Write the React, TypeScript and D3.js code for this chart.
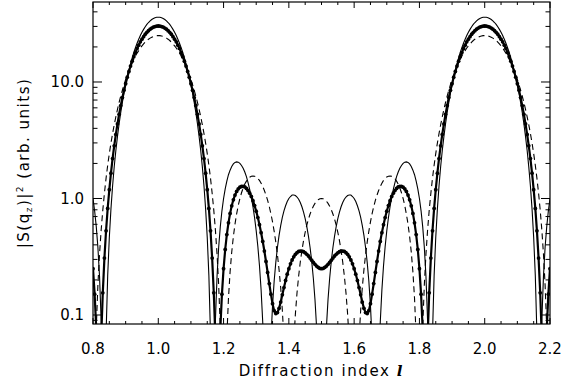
import React from "react";
import * as d3 from "d3";

// Sampling grid of the diffraction index l
const L_START = 0.8;
const L_STEP = 0.005;

// |S(q_z)|^2 for a 6-layer film (thin solid line)
const sixLayers = [
  1.00, 0.784, 0.574, 0.381, 0.215, 0.0896, 0.0152, 0.00402, 0.0677, 0.217,
  0.463, 0.815, 1.28, 1.87, 2.58, 3.41, 4.38, 5.47, 6.69, 8.03,
  9.47, 11.0, 12.6, 14.3, 16.1, 17.9, 19.7, 21.5, 23.3, 25.1,
  26.7, 28.3, 29.8, 31.2, 32.4, 33.5, 34.4, 35.1, 35.6, 35.9,
  36.0,
  35.9, 35.6, 35.1, 34.4, 33.5, 32.4, 31.2, 29.8, 28.3, 26.7,
  25.1, 23.3, 21.5, 19.7, 17.9, 16.1, 14.3, 12.6, 11.0, 9.47,
  8.03, 6.69, 5.47, 4.38, 3.41, 2.58, 1.87, 1.28, 0.815, 0.463,
  0.217, 0.0677, 0.00402, 0.0152, 0.0896, 0.215, 0.381, 0.574, 0.784, 1.00,
  1.21, 1.41, 1.60, 1.75, 1.88, 1.98, 2.04, 2.06, 2.05, 2.00,
  1.92, 1.82, 1.69, 1.54, 1.37, 1.20, 1.03, 0.851, 0.684, 0.528,
  0.387, 0.265, 0.164, 0.0868, 0.0337, 0.00532, 0.00131, 0.0205, 0.0609, 0.120,
  0.196, 0.283, 0.380, 0.482, 0.586, 0.687, 0.782, 0.867, 0.941, 1.00,
  1.04, 1.07, 1.07, 1.06, 1.03, 0.985, 0.923, 0.849, 0.763, 0.671,
  0.574, 0.476, 0.380, 0.290, 0.207, 0.136, 0.0780, 0.0351, 0.00886, 0,
  0.00886, 0.0351, 0.0780, 0.136, 0.207, 0.290, 0.380, 0.476, 0.574, 0.671,
  0.763, 0.849, 0.923, 0.985, 1.03, 1.06, 1.07, 1.07, 1.04, 1.00,
  0.941, 0.867, 0.782, 0.687, 0.586, 0.482, 0.380, 0.283, 0.196, 0.120,
  0.0609, 0.0205, 0.00131, 0.00532, 0.0337, 0.0868, 0.164, 0.265, 0.387, 0.528,
  0.684, 0.851, 1.03, 1.20, 1.37, 1.54, 1.69, 1.82, 1.92, 2.00,
  2.05, 2.06, 2.04, 1.98, 1.88, 1.75, 1.60, 1.41, 1.21, 1.00,
  0.784, 0.574, 0.381, 0.215, 0.0896, 0.0152, 0.00402, 0.0677, 0.217, 0.463,
  0.815, 1.28, 1.87, 2.58, 3.41, 4.38, 5.47, 6.69, 8.03, 9.47,
  11.0, 12.6, 14.3, 16.1, 17.9, 19.7, 21.5, 23.3, 25.1, 26.7,
  28.3, 29.8, 31.2, 32.4, 33.5, 34.4, 35.1, 35.6, 35.9, 36.0,
  35.9, 35.6, 35.1, 34.4, 33.5, 32.4, 31.2, 29.8, 28.3, 26.7,
  25.1, 23.3, 21.5, 19.7, 17.9, 16.1, 14.3, 12.6, 11.0, 9.47,
  8.03, 6.69, 5.47, 4.38, 3.41, 2.58, 1.87, 1.28, 0.815, 0.463,
  0.217, 0.0677, 0.00402, 0.0152, 0.0896, 0.215, 0.381, 0.574, 0.784, 1.00,
];

// 5-layer film (dashed line)
const fiveLayers = [
  0, 0.0186, 0.0775, 0.181, 0.333, 0.536, 0.795, 1.11, 1.49, 1.93,
  2.43, 2.99, 3.61, 4.29, 5.03, 5.83, 6.67, 7.57, 8.50, 9.47,
  10.5, 11.5, 12.5, 13.6, 14.6, 15.7, 16.7, 17.7, 18.6, 19.6,
  20.4, 21.2, 22.0, 22.7, 23.3, 23.8, 24.2, 24.6, 24.8, 25.0,
  25.0,
  25.0, 24.8, 24.6, 24.2, 23.8, 23.3, 22.7, 22.0, 21.2, 20.4,
  19.6, 18.6, 17.7, 16.7, 15.7, 14.6, 13.6, 12.5, 11.5, 10.5,
  9.47, 8.50, 7.57, 6.67, 5.83, 5.03, 4.29, 3.61, 2.99, 2.43,
  1.93, 1.49, 1.11, 0.795, 0.536, 0.333, 0.181, 0.0775, 0.0186, 0,
  0.0171, 0.0651, 0.139, 0.235, 0.347, 0.471, 0.603, 0.737, 0.871, 1.00,
  1.12, 1.23, 1.33, 1.41, 1.48, 1.52, 1.55, 1.56, 1.55, 1.53,
  1.48, 1.43, 1.35, 1.27, 1.17, 1.07, 0.964, 0.852, 0.740, 0.630,
  0.523, 0.422, 0.329, 0.245, 0.172, 0.110, 0.0623, 0.0276, 0.00688, 0,
  0.00674, 0.0265, 0.0586, 0.102, 0.155, 0.216, 0.285, 0.358, 0.435, 0.513,
  0.590, 0.665, 0.736, 0.801, 0.859, 0.908, 0.948, 0.976, 0.994, 1.00,
  0.994, 0.976, 0.948, 0.908, 0.859, 0.801, 0.736, 0.665, 0.590, 0.513,
  0.435, 0.358, 0.285, 0.216, 0.155, 0.102, 0.0586, 0.0265, 0.00674, 0,
  0.00688, 0.0276, 0.0623, 0.110, 0.172, 0.245, 0.329, 0.422, 0.523, 0.630,
  0.740, 0.852, 0.964, 1.07, 1.17, 1.27, 1.35, 1.43, 1.48, 1.53,
  1.55, 1.56, 1.55, 1.52, 1.48, 1.41, 1.33, 1.23, 1.12, 1.00,
  0.871, 0.737, 0.603, 0.471, 0.347, 0.235, 0.139, 0.0651, 0.0171, 0,
  0.0186, 0.0775, 0.181, 0.333, 0.536, 0.795, 1.11, 1.49, 1.93, 2.43,
  2.99, 3.61, 4.29, 5.03, 5.83, 6.67, 7.57, 8.50, 9.47, 10.5,
  11.5, 12.5, 13.6, 14.6, 15.7, 16.7, 17.7, 18.6, 19.6, 20.4,
  21.2, 22.0, 22.7, 23.3, 23.8, 24.2, 24.6, 24.8, 25.0, 25.0,
  25.0, 24.8, 24.6, 24.2, 23.8, 23.3, 22.7, 22.0, 21.2, 20.4,
  19.6, 18.6, 17.7, 16.7, 15.7, 14.6, 13.6, 12.5, 11.5, 10.5,
  9.47, 8.50, 7.57, 6.67, 5.83, 5.03, 4.29, 3.61, 2.99, 2.43,
  1.93, 1.49, 1.11, 0.795, 0.536, 0.333, 0.181, 0.0775, 0.0186, 0,
];

// 5 full layers + a half-filled 6th layer (thick line with dots)
const fiveHalfLayers = [
  0.250, 0.151, 0.0756, 0.0307, 0.0240, 0.0630, 0.155, 0.308, 0.528, 0.822,
  1.19, 1.65, 2.20, 2.83, 3.55, 4.37, 5.28, 6.27, 7.35, 8.50,
  9.68, 11.0, 12.3, 13.7, 15.1, 16.5, 17.9, 19.4, 20.7, 22.1,
  23.3, 24.5, 25.7, 26.7, 27.6, 28.4, 29.0, 29.6, 29.9, 30.2,
  30.25,
  30.2, 29.9, 29.6, 29.0, 28.4, 27.6, 26.7, 25.7, 24.5, 23.3,
  22.1, 20.7, 19.4, 17.9, 16.5, 15.1, 13.7, 12.3, 11.0, 9.68,
  8.50, 7.35, 6.27, 5.28, 4.37, 3.55, 2.83, 2.20, 1.65, 1.19,
  0.822, 0.528, 0.308, 0.155, 0.0630, 0.0240, 0.0307, 0.0756, 0.151, 0.250,
  0.365, 0.490, 0.618, 0.745, 0.865, 0.974, 1.07, 1.15, 1.21, 1.25,
  1.27, 1.27, 1.26, 1.22, 1.17, 1.11, 1.04, 0.957, 0.869, 0.778,
  0.686, 0.596, 0.509, 0.428, 0.354, 0.288, 0.232, 0.186, 0.151, 0.125,
  0.109, 0.103, 0.105, 0.114, 0.129, 0.149, 0.172, 0.198, 0.224, 0.250,
  0.275, 0.297, 0.316, 0.332, 0.343, 0.351, 0.354, 0.353, 0.349, 0.342,
  0.332, 0.321, 0.308, 0.295, 0.283, 0.272, 0.263, 0.256, 0.251, 0.250,
  0.251, 0.256, 0.263, 0.272, 0.283, 0.295, 0.308, 0.321, 0.332, 0.342,
  0.349, 0.353, 0.354, 0.351, 0.343, 0.332, 0.316, 0.297, 0.275, 0.250,
  0.224, 0.198, 0.172, 0.149, 0.129, 0.114, 0.105, 0.103, 0.109, 0.125,
  0.151, 0.186, 0.232, 0.288, 0.354, 0.428, 0.509, 0.596, 0.686, 0.778,
  0.869, 0.957, 1.04, 1.11, 1.17, 1.22, 1.26, 1.27, 1.27, 1.25,
  1.21, 1.15, 1.07, 0.974, 0.865, 0.745, 0.618, 0.490, 0.365, 0.250,
  0.151, 0.0756, 0.0307, 0.0240, 0.0630, 0.155, 0.308, 0.528, 0.822, 1.19,
  1.65, 2.20, 2.83, 3.55, 4.37, 5.28, 6.27, 7.35, 8.50, 9.68,
  11.0, 12.3, 13.7, 15.1, 16.5, 17.9, 19.4, 20.7, 22.1, 23.3,
  24.5, 25.7, 26.7, 27.6, 28.4, 29.0, 29.6, 29.9, 30.2, 30.25,
  30.2, 29.9, 29.6, 29.0, 28.4, 27.6, 26.7, 25.7, 24.5, 23.3,
  22.1, 20.7, 19.4, 17.9, 16.5, 15.1, 13.7, 12.3, 11.0, 9.68,
  8.50, 7.35, 6.27, 5.28, 4.37, 3.55, 2.83, 2.20, 1.65, 1.19,
  0.822, 0.528, 0.308, 0.155, 0.0630, 0.0240, 0.0307, 0.0756, 0.151, 0.250,
];

const xTickValues = [0.8, 1.0, 1.2, 1.4, 1.6, 1.8, 2.0, 2.2];
const xTickLabels = ["0.8", "1.0", "1.2", "1.4", "1.6", "1.8", "2.0", "2.2"];
const yTickValues = [0.1, 1, 10];
const yTickLabels = ["0.1", "1.0", "10.0"];

const LEFT = 93, RIGHT = 550, TOP = 2, BOTTOM = 324;
const FONT = "'DejaVu Sans', sans-serif";

export default function App() {
  const x = d3.scaleLinear().domain([0.8, 2.2]).range([LEFT, RIGHT]);
  const y = d3.scaleLog().domain([0.0837, 48.6]).range([BOTTOM, TOP]);
  const lAt = (i: number) => L_START + i * L_STEP;
  const line = d3
    .line<number>()
    .x((_, i) => x(lAt(i)))
    .y((d) => y(Math.max(d, 1e-5)));

  const xMinor = d3.range(0, 29).map((i) => 0.8 + i * 0.05).filter((v, i) => i % 4 !== 0);
  const yMinor: number[] = [];
  [0.01, 0.1, 1, 10].forEach((dec) => {
    for (let m = 2; m <= 9; m++) {
      const v = dec * m;
      if (v >= 0.0837 && v <= 48.6) yMinor.push(v);
    }
  });

  const XMAJ = 6, XMIN = 3, YMAJ = 9, YMIN = 4.5;

  return (
    <svg width={563} height={385} style={{ position: "absolute", left: 0, top: 0 }}>
      <rect x={0} y={0} width={563} height={385} fill="#fff" />
      <defs>
        <clipPath id="plotclip">
          <rect x={LEFT} y={TOP} width={RIGHT - LEFT} height={BOTTOM - TOP} />
        </clipPath>
      </defs>
      <g clipPath="url(#plotclip)">
        <path d={line(sixLayers) || ""} fill="none" stroke="#000" strokeWidth={1.1} />
        <path d={line(fiveLayers) || ""} fill="none" stroke="#000" strokeWidth={1.1} strokeDasharray="6,4" />
        <path d={line(fiveHalfLayers) || ""} fill="none" stroke="#000" strokeWidth={2.2} />
        {fiveHalfLayers.map((d, i) =>
          d > 0.05 ? <circle key={i} cx={x(lAt(i))} cy={y(d)} r={1.9} fill="#000" /> : null
        )}
      </g>
      {/* ticks */}
      <g stroke="#000" strokeWidth={1}>
        {xTickValues.map((v) => (
          <g key={"xt" + v}>
            <line x1={x(v)} x2={x(v)} y1={BOTTOM} y2={BOTTOM - XMAJ} />
            <line x1={x(v)} x2={x(v)} y1={TOP} y2={TOP + XMAJ} />
          </g>
        ))}
        {xMinor.map((v) => (
          <g key={"xm" + v}>
            <line x1={x(v)} x2={x(v)} y1={BOTTOM} y2={BOTTOM - XMIN} />
            <line x1={x(v)} x2={x(v)} y1={TOP} y2={TOP + XMIN} />
          </g>
        ))}
        {yTickValues.map((v) => (
          <g key={"yt" + v}>
            <line x1={LEFT} x2={LEFT + YMAJ} y1={y(v)} y2={y(v)} />
            <line x1={RIGHT} x2={RIGHT - YMAJ} y1={y(v)} y2={y(v)} />
          </g>
        ))}
        {yMinor.map((v) => (
          <g key={"ym" + v}>
            <line x1={LEFT} x2={LEFT + YMIN} y1={y(v)} y2={y(v)} />
            <line x1={RIGHT} x2={RIGHT - YMIN} y1={y(v)} y2={y(v)} />
          </g>
        ))}
      </g>
      <rect x={LEFT} y={TOP} width={RIGHT - LEFT} height={BOTTOM - TOP} fill="none" stroke="#000" strokeWidth={1.2} />
      {/* tick labels */}
      <g fontFamily={FONT} fontSize={15} fill="#000">
        {xTickValues.map((v, i) => (
          <text key={"xl" + v} x={x(v)} y={353.5} textAnchor="middle">
            {xTickLabels[i]}
          </text>
        ))}
        {yTickValues.map((v, i) => (
          <text key={"yl" + v} x={84} y={y(v) + 5.5} textAnchor="end">
            {yTickLabels[i]}
          </text>
        ))}
      </g>
      <text x={(LEFT + RIGHT) / 2} y={376} textAnchor="middle" fontFamily={FONT} fontSize={15} letterSpacing={1.6}>
        Diffraction index{" "}
        <tspan fontFamily="'DejaVu Serif', serif" fontStyle="italic" fontWeight="bold">
          l
        </tspan>
      </text>
      <text
        transform={`translate(28.5, ${(TOP + BOTTOM) / 2}) rotate(-90)`}
        textAnchor="middle"
        fontFamily={FONT}
        fontSize={15}
        letterSpacing={1.5}
      >
        |S(q
        <tspan fontSize={9} dy={3}>z</tspan>
        <tspan dy={-3}>)|</tspan>
        <tspan fontSize={9} dy={-6}>2</tspan>
        <tspan dy={6}> (arb. units)</tspan>
      </text>
    </svg>
  );
}
